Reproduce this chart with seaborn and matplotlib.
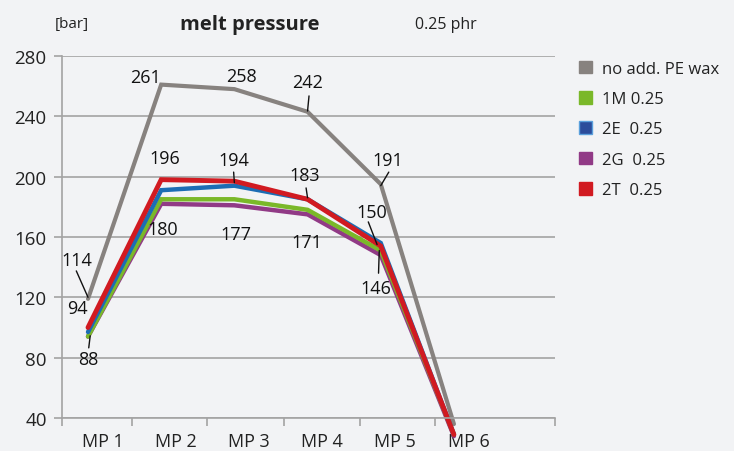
import matplotlib
matplotlib.use("Agg")
import matplotlib.pyplot as plt
import seaborn as sns
import pandas as pd
from matplotlib.patches import Patch

# ---- data ----
categories = ["MP 1", "MP 2", "MP 3", "MP 4", "MP 5", "MP 6"]
series_names = ["no add. PE wax", "1M 0.25", "2E  0.25", "2G  0.25", "2T  0.25"]
no_add = [119, 261, 258, 243, 195, 36]
m1 = [94, 185, 185, 178, 151, 29]
e2 = [97, 191, 194, 185, 156, 29]
g2 = [94, 182, 181, 175, 148, 28]
t2 = [100, 198, 197, 185, 154, 29]
colors = ["#87827f", "#7ab829", "#1c6db4", "#913a86", "#d11a21"]

# value labels
label_texts = ["261", "258", "242", "191", "196", "194", "183", "150",
               "180", "177", "171", "146", "114", "94", "88"]
label_x = [0.78, 2.10, 3.0, 4.10, 1.05, 1.99, 2.96, 3.88,
           1.02, 2.02, 2.99, 3.93, -0.15, -0.14, 0.0]
label_y = [266, 266.5, 262.5, 211, 212.5, 211, 201, 176.5,
           165, 162, 156.5, 126.5, 145, 113, 79]

sns.set_theme(style="white")
plt.rcParams["font.family"] = ["Open Sans", "DejaVu Sans"]
plt.rcParams["xtick.bottom"] = True
plt.rcParams["ytick.left"] = True

bg = "#f2f3f5"
fig = plt.figure(figsize=(7.34, 4.52), dpi=100, facecolor=bg)
ax = fig.add_axes([0.0845, 0.073, 0.756 - 0.0845, 0.874 - 0.073], facecolor=bg)

all_series = [no_add, m1, e2, g2, t2]
rows = []
for name, vals in zip(series_names, all_series):
    for i, v in enumerate(vals):
        rows.append({"pos": i, "value": v, "series": name})
df = pd.DataFrame(rows)

palette = dict(zip(series_names, colors))
widths = {series_names[0]: 3.0, series_names[1]: 3.2, series_names[2]: 3.2,
          series_names[3]: 3.2, series_names[4]: 3.5}
draw_order = [series_names[0], series_names[3], series_names[1], series_names[2], series_names[4]]
for name in draw_order:
    sub = df[df["series"] == name]
    sns.lineplot(data=sub, x="pos", y="value", color=palette[name], lw=widths[name],
                 ax=ax, legend=False, solid_joinstyle="miter")
for ln in ax.lines:
    ln.set_clip_on(False)

ax.set_xlim(-0.355, 6.38)
ax.set_ylim(40, 280)
ax.set_yticks([40, 80, 120, 160, 200, 240, 280])
ax.yaxis.grid(True, color="#a3a3a3", lw=1.2)
ax.set_axisbelow(True)

# x: labels (no marks) and separator tick marks
ax.set_xticks([i + 0.2 for i in range(len(categories))])
ax.set_xticklabels(categories, fontsize=13, color="#222222")
ax.set_xticks([-0.355, 0.6, 1.63, 2.68, 3.72, 4.74, 6.38], minor=True)
ax.tick_params(axis="x", which="both", bottom=True)
ax.tick_params(axis="x", which="major", length=0, pad=10)
ax.tick_params(axis="x", which="minor", length=6, width=1.2, color="#a3a3a3", direction="out")
ax.tick_params(axis="y", left=True, length=6, width=1.2, color="#a3a3a3", labelsize=13.5,
               labelcolor="#222222", pad=5)
ax.set_xlabel("")
ax.set_ylabel("")

for s in ["top", "right"]:
    ax.spines[s].set_visible(False)
for s in ["left", "bottom"]:
    ax.spines[s].set_color("#a3a3a3")
    ax.spines[s].set_linewidth(1.2)

# value labels
for t, x, y in zip(label_texts, label_x, label_y):
    ax.text(x, y, t, ha="center", va="center", fontsize=13, color="#111111")

pointers = [((3.02, 253.5), (3.0, 243.5)),
            ((4.11, 203), (4.0, 194)),
            ((1.99, 203), (2.0, 196)),
            ((2.98, 192.5), (3.0, 186)),
            ((3.83, 170), (3.95, 155)),
            ((3.97, 136), (3.98, 151)),
            ((-0.16, 137.5), (0.0, 120)),
            ((0.01, 86.5), (0.03, 94.5))]
for (p0, p1) in pointers:
    ax.plot([p0[0], p1[0]], [p0[1], p1[1]], color="#111111", lw=1.0, clip_on=False)

# titles
fig.text(0.075, 0.945, "[bar]", fontsize=11, color="#222222", ha="left", va="center")
fig.text(0.34, 0.945, "melt pressure", fontsize=14.5, fontweight="bold", color="#222222",
         ha="center", va="center")
fig.text(0.565, 0.945, "0.25 phr", fontsize=11.5, color="#222222", ha="left", va="center")

# legend
handles = []
for name, c in zip(series_names, colors):
    if name.startswith("2E"):
        handles.append(Patch(facecolor="#2b4c9b", edgecolor="#5aa0dc", lw=1.0, label=name))
    else:
        handles.append(Patch(facecolor=c, edgecolor=c, label=name))
fig.legend(handles=handles, loc="upper left", bbox_to_anchor=(0.768, 0.897),
           frameon=False, fontsize=12, handlelength=0.8, handleheight=0.8,
           handletextpad=0.6, labelspacing=0.85, labelcolor="#222222")

fig.savefig("out.png", dpi=100, facecolor=bg)
